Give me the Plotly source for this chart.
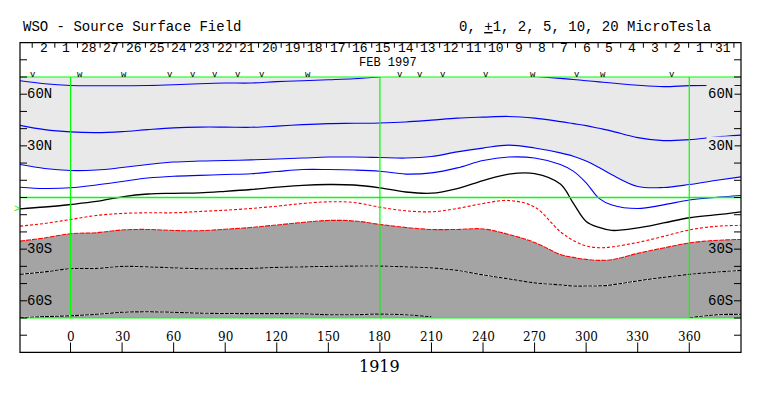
import plotly.graph_objects as go

# ---------------- data (Carrington longitude, latitude in degrees) ----------------
lon = [-29.4, -15, 0, 15, 30, 45, 60, 75, 90, 105, 120, 135, 150, 165, 180, 195, 210,
       225, 240, 255, 270, 285, 292.5, 300, 307.5, 315, 330, 345, 360, 375, 390.1]

pos10 = [67.85, 66.1, 65.1, 64.95, 64.95, 65.07, 65.5, 66.1, 66.5, 66.5, 67.3, 67.85, 68.4, 69.0,
         70.0, None, None, None, None, None, 70.4, 69.2, 68.55, 67.85, 67.16, 66.5, 65.2, 64.4,
         65.0, 65.1, 65.1]
pos5 = [41.93, 39.44, 38.10, 37.70, 38.28, 39.44, 40.42, 40.89, 40.89, 40.77, 41.47, 42.34, 42.92,
        43.09, 43.32, 43.90, 44.95, 46.11, 46.69, 47.09, 46.11, 44.08, 42.92, 41.76, 40.19, 38.57,
        34.80, 33.06, 33.64, 35.09, 36.25]
pos2 = [19.14, 16.82, 15.66, 15.95, 17.40, 19.14, 20.59, 21.17, 21.46, 21.86, 22.33, 22.91, 23.49,
        23.49, 23.20, 22.91, 23.8, 26.5, 28.7, 30.4, 28.75, 25.9, 24.0, 21.17, 17.40, 13.2, 6.4, 5.8,
        7.54, 9.86, 12.0]
pos1 = [5.97, 5.22, 5.63, 7.25, 9.28, 11.31, 12.35, 12.87, 13.34, 13.80, 15.08, 16.24, 16.24, 15.95,
        15.25, 13.6, 14.3, 17.2, 21.5, 23.49, 22.91, 19.14, 15.3, 8.5, -0.5, -4.35, -6.4, -4.3,
        -1.45, 0.0, 1.16]
neutral = [-6.55, -5.51, -4.06, -2.3, 0.4, 2.03, 2.44, 2.73, 3.60, 4.64, 5.97, 7.08, 7.54, 7.25,
           5.63, 3.19, 2.49, 5.22, 9.86, 13.63, 13.92, 7.83, -3.25, -13.9, -17.40, -19.14, -17.69,
           -14.79, -11.77, -10.15, -8.29]
neg1 = [-16.64, -15.08, -12.76, -10.44, -9.28, -8.87, -8.87, -8.12, -7.37, -6.38, -5.05, -3.48,
        -2.49, -2.90, -5.63, -7.71, -8.29, -6.38, -3.48, -1.74, -5.51, -19.9, -24.94, -28.13,
        -29.17, -28.71, -26.1, -22.6, -18.85, -16.8, -16.2]
neg2 = [-25.34, -23.49, -21.05, -20.47, -18.85, -18.56, -19.14, -19.31, -18.44, -17.40, -15.95,
        -14.50, -13.34, -13.63, -15.66, -17.40, -18.56, -18.56, -18.27, -21.46, -26.10, -33.06,
        -34.80, -35.96, -36.54, -36.13, -32.48, -29.29, -26.39, -24.94, -24.36]
neg5 = [-44.66, -43.21, -41.35, -41.18, -40.02, -40.31, -40.89, -41.35, -41.35, -41.18, -40.60,
        -40.31, -40.02, -39.84, -39.84, -40.31, -40.89, -42.34, -44.95, -47.27, -49.59, -50.75,
        -51.44, -51.44, -51.33, -50.75, -48.43, -46.40, -44.66, -43.38, -42.34]
neg10 = [-69.8, -69.19, -68.72, -67.85, -66.69, -66.40, -66.69, -67.16, -67.39, -67.45, -67.45,
         -67.56, -68.08, -68.08, -67.74, -68.14, -69.30, None, None, None, None, None, None, None,
         None, None, None, None, -69.9, -68.2, -67.85]

lon_ticks = [0, 30, 60, 90, 120, 150, 180, 210, 240, 270, 300, 330, 360]
lat_labels = [(60, "60N"), (30, "30N"), (-30, "30S"), (-60, "60S")]
day_labels = ["2", "1", "28", "27", "26", "25", "24", "23", "22", "21", "20", "19", "18", "17",
              "16", "15", "14", "13", "12", "11", "10", "9", "8", "7", "6", "5", "4", "3", "2",
              "1", "31"]
day_start_lon = -22.3
deg_per_day = 13.17
obs_lon = [-21.7, 5.6, 31.2, 58.0, 71.4, 84.2, 97.5, 111.5, 138.2, 191.8, 203.4, 216.8, 241.8,
           269.1, 294.7, 309.8, 349.9]
obs_mark = ["v", "w", "w", "v", "v", "v", "v", "v", "w", "v", "v", "v", "v", "w", "v", "w", "v"]
earth_lat = -7.2
rotation = "1919"
month = "FEB 1997"

# ---------------- figure ----------------
MONO = "Liberation Mono, Courier New, monospace"
SERIF = "DejaVu Serif, serif"
LIGHT = "#e9e9e9"
DARK = "#a4a4a4"
GREEN = "#00ff00"

# the page body has an 8px margin, so the figure is sized/offset to compensate
W, H = 747, 380
ML, MR, MT, MB = 12, 14, 69, 70
PW = W - ML - MR          # 721
PH = H - MT - MB          # 241
PLOT_LEFT_PAGE = 20


def py(lat):
    return (lat + 70.0) / 140.0


def pxx(px):
    return (px - PLOT_LEFT_PAGE) / PW


fig = go.Figure()
n = len(lon)
# positive polarity shading (above +2 contour)
fig.add_trace(go.Scatter(x=lon, y=[70] * n, mode="lines", line=dict(width=0), hoverinfo="skip"))
fig.add_trace(go.Scatter(x=lon, y=pos2, mode="lines", line=dict(width=0, shape="spline"),
                         fill="tonexty", fillcolor=LIGHT, hoverinfo="skip"))
# negative polarity shading (below -2 contour)
fig.add_trace(go.Scatter(x=lon, y=neg2, mode="lines", line=dict(width=0, shape="spline"),
                         hoverinfo="skip"))
fig.add_trace(go.Scatter(x=lon, y=[-70] * n, mode="lines", line=dict(width=0),
                         fill="tonexty", fillcolor=DARK, hoverinfo="skip"))

for ys in (pos10, pos5, pos2, pos1):
    fig.add_trace(go.Scatter(x=lon, y=ys, mode="lines",
                             line=dict(color="#0000ff", width=1.1, shape="spline")))
fig.add_trace(go.Scatter(x=lon, y=neutral, mode="lines",
                         line=dict(color="#000000", width=1.3, shape="spline")))
fig.add_trace(go.Scatter(x=lon, y=neg1, mode="lines",
                         line=dict(color="#ff0000", width=1.1, shape="spline", dash="3px,2px")))
fig.add_trace(go.Scatter(x=lon, y=neg2, mode="lines",
                         line=dict(color="#ff0000", width=1.1, shape="spline", dash="5px,1px")))
for ys in (neg5, neg10):
    fig.add_trace(go.Scatter(x=lon, y=ys, mode="lines",
                             line=dict(color="#ffffff", width=1.1, shape="spline")))
    fig.add_trace(go.Scatter(x=lon, y=ys, mode="lines",
                             line=dict(color="#000000", width=1.1, shape="spline", dash="4px,1px")))

shapes = []
# green reference lines
for lt in (70, 0, -70):
    shapes.append(dict(type="line", xref="paper", yref="paper", x0=0, x1=1, y0=py(lt), y1=py(lt),
                       line=dict(color=GREEN, width=1.5 if lt == 0 else 1.2), layer="above"))
for lg in (0, 180, 360):
    shapes.append(dict(type="line", xref="x", yref="paper", x0=lg, x1=lg, y0=0, y1=1,
                       line=dict(color=GREEN, width=1.2), layer="above"))
# frame
shapes.append(dict(type="rect", xref="paper", yref="paper", x0=0, x1=1, y0=py(-90), y1=py(90),
                   line=dict(color="black", width=1.2), layer="above"))
# latitude ticks on both sides
tl = 7.0 / PW
for lt in range(-80, 90, 10):
    shapes.append(dict(type="line", xref="paper", yref="paper", x0=0, x1=tl, y0=py(lt), y1=py(lt),
                       line=dict(color="black", width=1), layer="above"))
    shapes.append(dict(type="line", xref="paper", yref="paper", x0=1 - tl, x1=1, y0=py(lt),
                       y1=py(lt), line=dict(color="black", width=1), layer="above"))
# longitude ticks at bottom
for lg in lon_ticks:
    shapes.append(dict(type="line", xref="x", yref="paper", x0=lg, x1=lg, y0=py(-90),
                       y1=py(-84.2), line=dict(color="black", width=1), layer="above"))
# day ticks at top
for k in range(len(day_labels) + 1):
    xl = day_start_lon + deg_per_day * k
    shapes.append(dict(type="line", xref="x", yref="paper", x0=xl, x1=xl, y0=py(90),
                       y1=py(87), line=dict(color="black", width=1), layer="above"))

ann = []
ann.append(dict(text="WSO - Source Surface Field", xref="paper", yref="paper", x=pxx(21),
                y=py(99.0), xanchor="left", yanchor="middle", showarrow=False,
                font=dict(family=MONO, size=14, color="black")))
ann.append(dict(text='0, <span style="text-decoration:underline">+</span>1, 2, 5, 10, 20 MicroTesla',
                xref="paper", yref="paper", x=pxx(713), y=py(99.0), xanchor="right",
                yanchor="middle", showarrow=False, font=dict(family=MONO, size=14, color="black")))
for k, d in enumerate(day_labels):
    ann.append(dict(text=d, xref="x", yref="paper", x=day_start_lon + deg_per_day * (k + 0.5),
                    y=py(86.6), xanchor="center", yanchor="middle", showarrow=False, borderpad=0,
                    font=dict(family=MONO, size=13, color="black")))
ann.append(dict(text=month, xref="x", yref="paper", x=167.5, y=py(78.0), xanchor="left",
                yanchor="middle", showarrow=False, borderpad=0,
                font=dict(family=MONO, size=12, color="black")))
for lg, m in zip(obs_lon, obs_mark):
    ann.append(dict(text=m, xref="x", yref="paper", x=lg, y=py(71.0), xanchor="center",
                    yanchor="middle", showarrow=False, borderpad=0,
                    font=dict(family=MONO, size=9, color="black")))
for lt, s in lat_labels:
    ann.append(dict(text=s, xref="paper", yref="paper", x=pxx(25), y=py(lt), xanchor="left",
                    yanchor="middle", showarrow=False, font=dict(family=MONO, size=14, color="black")))
    ann.append(dict(text=s, xref="paper", yref="paper", x=pxx(735), y=py(lt), xanchor="right",
                    yanchor="middle", showarrow=False,
                    bgcolor=LIGHT if lt > 0 else "rgba(0,0,0,0)",
                    font=dict(family=MONO, size=14, color="black")))
for lg in lon_ticks:
    ann.append(dict(text=str(lg), xref="x", yref="paper", x=lg, y=py(-81.3), xanchor="center",
                    yanchor="middle", showarrow=False, font=dict(family=SERIF, size=12, color="black")))
ann.append(dict(text=rotation, xref="x", yref="paper", x=180, y=py(-98.4), xanchor="center",
                yanchor="middle", showarrow=False, font=dict(family=SERIF, size=16, color="black")))
ann.append(dict(text=">", xref="paper", yref="paper", x=pxx(17), y=py(earth_lat), xanchor="center",
                yanchor="middle", showarrow=False, font=dict(family=MONO, size=10, color=GREEN)))

fig.update_layout(
    width=W, height=H, autosize=False,
    margin=dict(l=ML, r=MR, t=MT, b=MB, pad=0),
    paper_bgcolor="white", plot_bgcolor="white",
    showlegend=False,
    xaxis=dict(range=[-29.4, 390.1], visible=False, fixedrange=True),
    yaxis=dict(range=[-70, 70], visible=False, fixedrange=True),
    shapes=shapes, annotations=ann,
)

fig.write_html("out.html")
